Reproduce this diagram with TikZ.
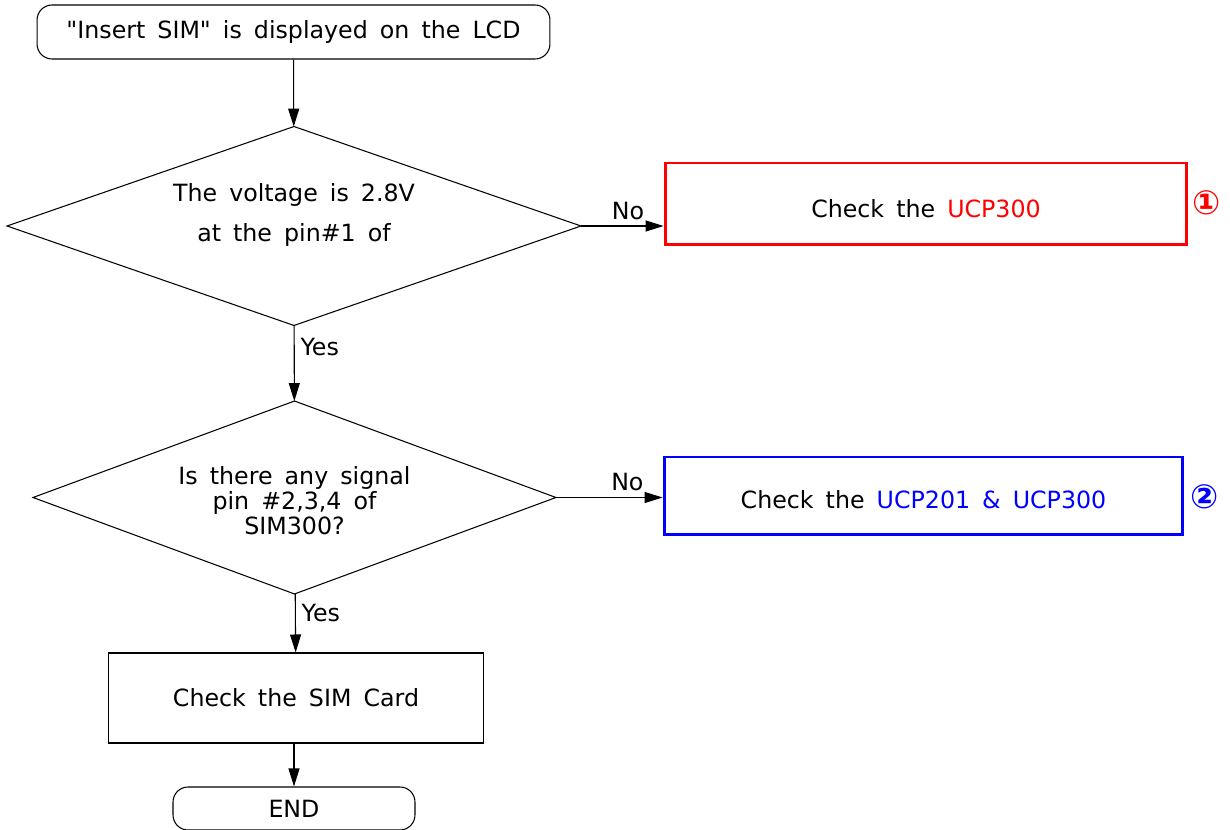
\documentclass[tikz,border=0pt]{standalone}
\usepackage{fontspec}
\newfontfamily\flowfont{DejaVu Sans}[WordSpace=1.6]
\usetikzlibrary{shapes.geometric,arrows.meta,positioning}

\tikzset{
  every node/.style={font=\flowfont\fontsize{13.5}{16}\selectfont},
  >={Triangle[length=0.36cm,width=0.22cm]},
  flow/.style={line width=0.6pt},
  termbox/.style={draw, line width=0.6pt, rounded corners=0.3cm},
  stepbox/.style={draw, line width=0.6pt},
  decision/.style={draw, diamond, line width=0.6pt, inner sep=0pt, outer sep=0pt, align=center},
  checkbox/.style={draw, line width=1.7pt},
  mark num/.style={font=\flowfont\fontsize{19}{19}\selectfont\bfseries}
}

\begin{document}
\begin{tikzpicture}[x=0.02cm, y=-0.02cm]
\useasboundingbox (0,0) rectangle (1230,830);

% Start
\node[termbox, minimum width=10.26cm, minimum height=1.08cm] (start) at (293.5,32) {"Insert SIM" is displayed on the LCD};

% First check
\node[decision, aspect=2.88, minimum width=11.48cm, minimum height=3.98cm,
  font=\flowfont\fontsize{13.5}{22.7}\selectfont] (volt) at (294,226)
  {\raisebox{0.13cm}[0pt][0pt]{\begin{tabular}{c}The voltage is 2.8V\\ at the pin\#1 of\end{tabular}}};
\node[checkbox, draw=red, minimum width=10.44cm, minimum height=1.64cm] (ucpA) at (926,204) {\raisebox{-0.28cm}[0pt][0pt]{Check the \textcolor{red}{UCP300}}};
\node[mark num, text=red] (numA) at (1207,203) {①};

% Second check
\node[decision, aspect=2.71, minimum width=10.46cm, minimum height=3.86cm,
  font=\flowfont\fontsize{13.5}{13.5}\selectfont] (signal) at (294.5,497.5)
  {\raisebox{-0.26cm}[0pt][0pt]{\begin{tabular}{c}Is there any signal\\ pin \#2,3,4 of\\ SIM300?\end{tabular}}};
\node[checkbox, draw=blue, minimum width=10.38cm, minimum height=1.56cm] (ucpB) at (923.5,496) {\raisebox{-0.26cm}[0pt][0pt]{Check the \textcolor{blue}{UCP201 \& UCP300}}};
\node[mark num, text=blue] (numB) at (1205,497) {②};

% Last steps
\node[stepbox, minimum width=7.52cm, minimum height=1.8cm] (card) at (296,698) {Check the SIM Card};
\node[termbox, minimum width=4.84cm, minimum height=0.86cm] (end) at (294,808.5) {END};

% Arrows
\draw[flow,->] (start) -- (volt);
\draw[flow,->] (volt.east) -- node[above, pos=0.57] (noA) {No} (volt.east -| ucpA.west);
\draw[flow,->] (volt) -- node[right, pos=0.28] (yesA) {Yes} (signal);
\draw[flow,->] (signal.east) -- node[above, pos=0.67] (noB) {No} (signal.east -| ucpB.west);
\draw[flow,->] (signal) -- node[right, pos=0.32] (yesB) {Yes} (card);
\draw[flow,->] (card.south -| end.north) -- (end);

\end{tikzpicture}
\end{document}
